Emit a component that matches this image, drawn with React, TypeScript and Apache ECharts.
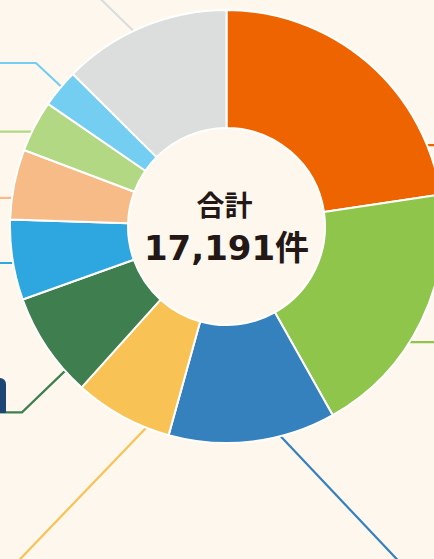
import React, { useEffect, useRef } from "react";
import * as echarts from "echarts";

const categories = ["A", "B", "C", "D", "E", "F", "G", "H", "I", "J"];
const values = [3892, 3300, 2144, 1265, 1351, 1031, 898, 659, 492, 2159];
const colors = [
  "#EE6500", "#8FC54A", "#3481BD", "#F9C255", "#3F7F4F",
  "#2EA6DF", "#F6BB87", "#B3D883", "#74CEF1", "#DCDDDD",
];
const totalLabel = "合計";
const unit = "件";

// leader-line anchor angles (deg, clockwise from top)
const leaderAngles = [67.9, 122.3, 167.1, 200.6, 228.3, 260.3, 277.6, 296, 310.1, 335.6];

const CX = 226.5;
const CY = 226.5;
const R_IN = 98.5;
const R_OUT = 216.5;

function anchor(deg: number, r: number): [number, number] {
  const a = (deg * Math.PI) / 180;
  return [CX + r * Math.sin(a), CY - r * Math.cos(a)];
}

export default function App() {
  const ref = useRef<HTMLDivElement>(null);
  useEffect(() => {
    if (!ref.current) return;
    const chart = echarts.init(ref.current, null, { renderer: "svg" });
    const total = values.reduce((s, v) => s + v, 0);

    const routes: [number, number][][] = leaderAngles.map((deg, i) => {
      const s = anchor(deg, R_OUT - 10);
      const e = anchor(deg, R_OUT);
      switch (i) {
        case 0: return [s, [e[0], e[1]], [440, e[1]]];
        case 1: return [s, [e[0], e[1]], [440, e[1]]];
        case 2: return [s, [e[0] + (566 - e[1]), 566]];
        case 3: return [s, [e[0] - (566 - e[1]), 566]];
        case 4: return [s, [22, 412.3], [-5, 412.3]];
        case 5: return [s, [e[0], e[1]], [-5, e[1]]];
        case 6: return [s, [e[0], e[1]], [-5, e[1]]];
        case 7: return [s, [e[0], e[1]], [-5, e[1]]];
        case 8: return [s, [36, 63], [-5, 63]];
        default: return [s, [e[0] - (e[1] + 8) * 1.17, -8]];
      }
    });

    chart.setOption({
      animation: false,
      backgroundColor: "#FEF7EE",
      graphic: [
        ...routes.map((pts, i) => ({
          type: "polyline",
          z: 0,
          shape: { points: pts },
          style: { stroke: colors[i], lineWidth: 2.2, fill: null },
        })),
        {
          type: "rect",
          z: 0,
          shape: { x: -6, y: 378, width: 12, height: 35, r: [6, 6, 0, 0] },
          style: { fill: "#1D4675" },
        },
        {
          type: "text",
          z: 10,
          x: CX - 2,
          y: 204,
          style: {
            text: totalLabel,
            font: "bold 28px 'Noto Sans CJK JP'",
            fill: "#231815",
            textAlign: "center",
            textVerticalAlign: "middle",
          },
        },
        {
          type: "text",
          z: 10,
          x: CX,
          y: 248,
          style: {
            text: total.toLocaleString("en-US") + unit,
            font: "bold 34px 'DejaVu Sans', 'Noto Sans CJK JP'",
            fill: "#231815",
            textAlign: "center",
            textVerticalAlign: "middle",
          },
        },
      ],
      series: [
        {
          type: "pie",
          z: 5,
          center: [CX, CY],
          radius: [R_IN, R_OUT],
          startAngle: 90,
          clockwise: true,
          label: { show: false },
          labelLine: { show: false },
          emphasis: { disabled: true },
          itemStyle: { borderColor: "#FFFFFF", borderWidth: 2 },
          data: categories.map((c, i) => ({
            name: c,
            value: values[i],
            itemStyle: { color: colors[i] },
          })),
        },
      ],
    });
    return () => chart.dispose();
  }, []);
  return (
    <div
      ref={ref}
      style={{ position: "fixed", left: 0, top: 0, width: 434, height: 559 }}
    />
  );
}
